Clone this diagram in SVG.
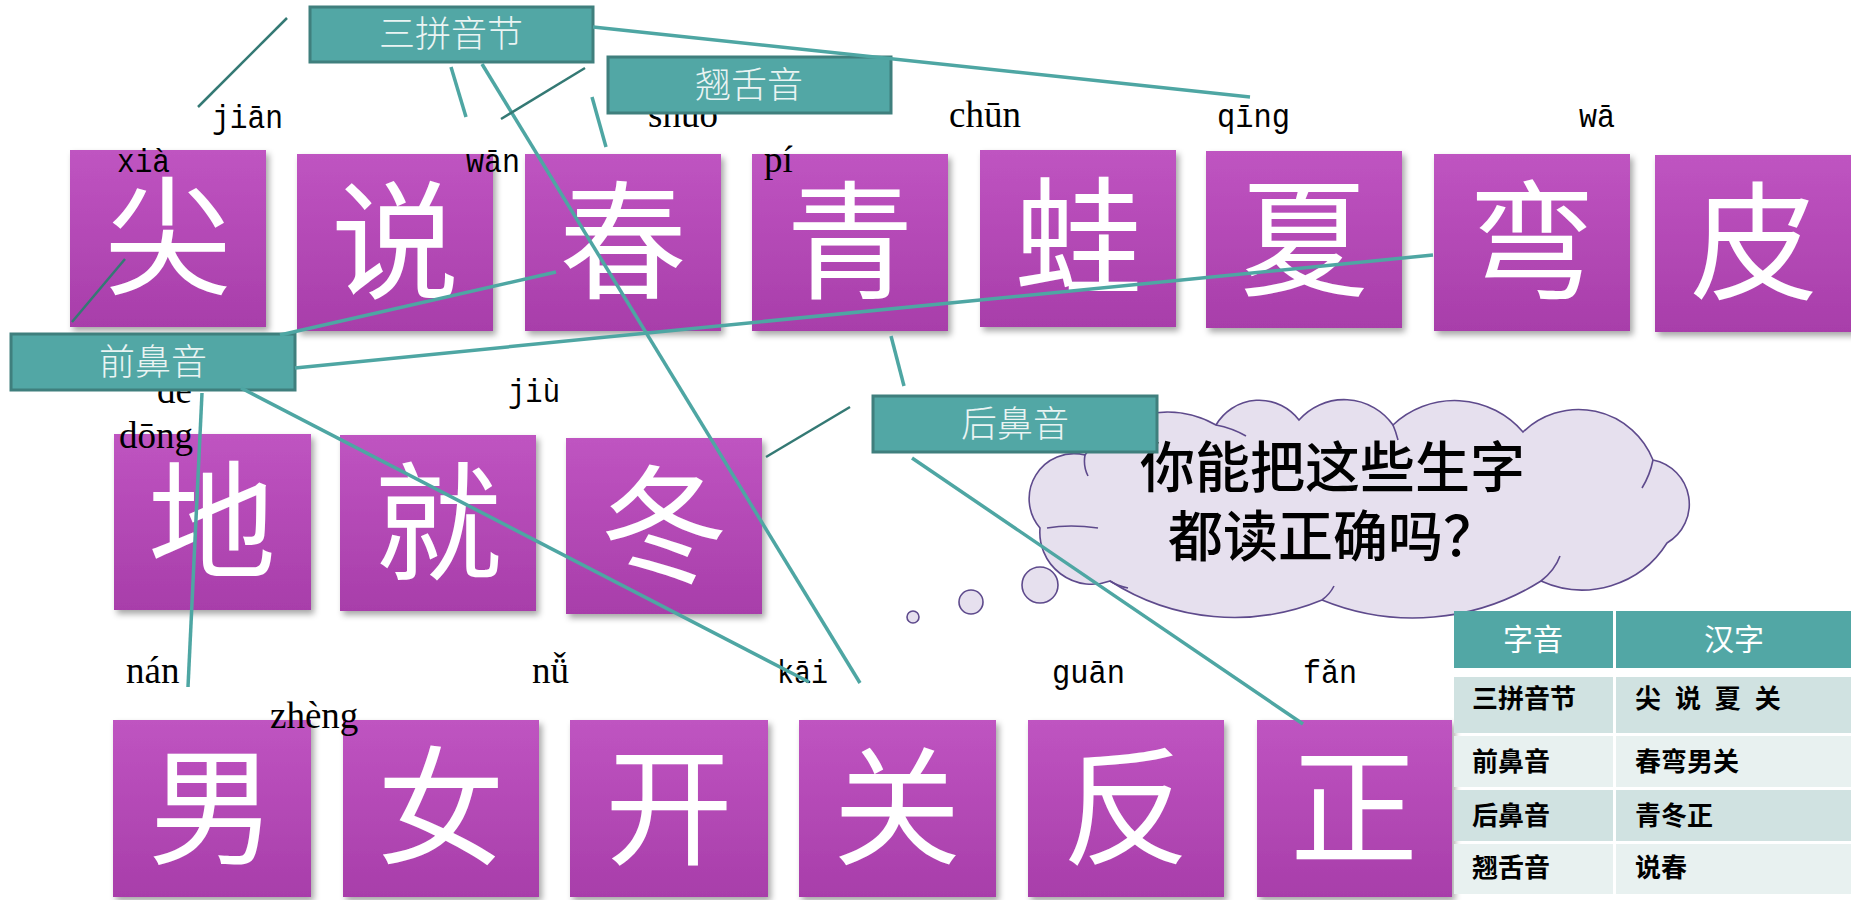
<svg xmlns="http://www.w3.org/2000/svg" width="1851" height="900" viewBox="0 0 1851 900">
<defs>
<linearGradient id="pg" x1="0" y1="0" x2="0" y2="1">
<stop offset="0" stop-color="#BF54C1"/>
<stop offset="1" stop-color="#A83EAA"/>
</linearGradient>
<filter id="sh" x="-10%" y="-10%" width="125%" height="125%">
<feDropShadow dx="3" dy="4" stdDeviation="3" flood-color="#000" flood-opacity="0.35"/>
</filter>
<style>
.cb{fill:url(#pg);filter:url(#sh)}
.ch{font-family:"Noto Sans CJK SC",sans-serif;font-size:128px;fill:#fff;text-anchor:middle}
.pm{font-family:"Liberation Mono",monospace;font-size:33px;fill:#000}
.pt{font-family:"Liberation Serif",serif;font-size:37px;fill:#000}
.lb{fill:#52A7A5;stroke:#3F7F7D;stroke-width:3}
.lt{font-family:"Noto Sans CJK SC",sans-serif;font-size:36px;font-weight:300;fill:#EAF4F3;text-anchor:middle}
.ln{stroke:#4EA6A3;stroke-width:3.5;fill:none}
.ld{stroke:#347974;stroke-width:2.5;fill:none}
.cl{fill:#E6E0EE;stroke:#5E4A8C;stroke-width:1.6}
.ci{fill:none;stroke:#5E4A8C;stroke-width:1.6}
.qt{font-family:"Noto Sans CJK SC",sans-serif;font-size:55px;font-weight:500;fill:#000}
.th{fill:#52A7A5}
.r1{fill:#D0E2E1}
.r2{fill:#E8F1F0}
.tht{font-family:"Noto Sans CJK SC",sans-serif;font-size:30px;fill:#fff;text-anchor:middle}
.tt{font-family:"Noto Sans CJK SC",sans-serif;font-size:26px;font-weight:bold;fill:#000}
</style>
</defs>
<rect width="1851" height="900" fill="#fff"/>

<g id="n-jian"><rect class="cb" x="70" y="150" width="196" height="177"/><text class="ch" x="168" y="285">尖</text></g>
<g id="n-shuo"><rect class="cb" x="297" y="154" width="196" height="177"/><text class="ch" x="395" y="289">说</text></g>
<g id="n-chun"><rect class="cb" x="525" y="154" width="196" height="177"/><text class="ch" x="623" y="289">春</text></g>
<g id="n-qing"><rect class="cb" x="752" y="154" width="196" height="177"/><text class="ch" x="850" y="289">青</text></g>
<g id="n-wa"><rect class="cb" x="980" y="150" width="196" height="177"/><text class="ch" x="1078" y="285">蛙</text></g>
<g id="n-xia"><rect class="cb" x="1206" y="151" width="196" height="177"/><text class="ch" x="1304" y="286">夏</text></g>
<g id="n-wan"><rect class="cb" x="1434" y="154" width="196" height="177"/><text class="ch" x="1532" y="289">弯</text></g>
<g id="n-pi"><rect class="cb" x="1655" y="155" width="200" height="177"/><text class="ch" x="1754" y="290">皮</text></g>

<g id="n-di"><rect class="cb" x="114" y="434" width="197" height="176"/><text class="ch" x="212" y="569">地</text></g>
<g id="n-jiu"><rect class="cb" x="340" y="435" width="196" height="176"/><text class="ch" x="438" y="570">就</text></g>
<g id="n-dong"><rect class="cb" x="566" y="438" width="196" height="176"/><text class="ch" x="664" y="573">冬</text></g>

<g id="n-nan"><rect class="cb" x="113" y="720" width="198" height="177"/><text class="ch" x="212" y="855">男</text></g>
<g id="n-nv"><rect class="cb" x="343" y="720" width="196" height="177"/><text class="ch" x="441" y="855">女</text></g>
<g id="n-kai"><rect class="cb" x="570" y="720" width="198" height="177"/><text class="ch" x="669" y="855">开</text></g>
<g id="n-guan"><rect class="cb" x="799" y="720" width="197" height="177"/><text class="ch" x="897" y="855">关</text></g>
<g id="n-fan"><rect class="cb" x="1028" y="720" width="196" height="177"/><text class="ch" x="1126" y="855">反</text></g>
<g id="n-zheng"><rect class="cb" x="1257" y="720" width="195" height="177"/><text class="ch" x="1354" y="855">正</text></g>

<g id="pinyin">
<text class="pm" x="212" y="128" textLength="71" lengthAdjust="spacingAndGlyphs">jiān</text>
<text class="pm" x="117" y="172" textLength="53" lengthAdjust="spacingAndGlyphs">xià</text>
<text class="pm" x="466" y="172" textLength="54" lengthAdjust="spacingAndGlyphs">wān</text>
<text class="pm" x="1217" y="127" textLength="73" lengthAdjust="spacingAndGlyphs">qīng</text>
<text class="pm" x="1579" y="127" textLength="36" lengthAdjust="spacingAndGlyphs">wā</text>
<text class="pm" x="508" y="402" textLength="52" lengthAdjust="spacingAndGlyphs">jiù</text>
<text class="pm" x="777" y="683" textLength="51" lengthAdjust="spacingAndGlyphs">kāi</text>
<text class="pm" x="1052" y="683" textLength="73" lengthAdjust="spacingAndGlyphs">guān</text>
<text class="pm" x="1303" y="683" textLength="54" lengthAdjust="spacingAndGlyphs">fǎn</text>
<text class="pt" x="648" y="127">shuō</text>
<text class="pt" x="949" y="127">chūn</text>
<text class="pt" x="764" y="172">pí</text>
<text class="pt" x="157" y="403">de</text>
<text class="pt" x="119" y="448">dōng</text>
<text class="pt" x="126" y="683">nán</text>
<text class="pt" x="270" y="728">zhèng</text>
<text class="pt" x="532" y="683">nǚ</text>
</g>

<g id="cloud">
<path class="cl" d="M1085 455 A100 100 0 0 1 1216 425 A50 50 0 0 1 1299 420 A60 60 0 0 1 1393 425 A90 90 0 0 1 1523 432 A80 80 0 0 1 1653 460 A45 45 0 0 1 1667 543 A100 100 0 0 1 1541 581 A240 240 0 0 1 1322 600 A230 230 0 0 1 1110 581 A52 52 0 0 1 1040 528 A45 45 0 0 1 1085 455 Z"/>
<path class="ci" d="M1085 455 Q1083 466 1088 476 M1047 528 Q1070 524 1098 528 M1216 425 Q1232 428 1246 436 M1393 425 Q1396 432 1398 440 M1653 460 Q1650 475 1642 488 M1541 581 Q1555 570 1560 556 M1322 600 Q1330 594 1334 586 M1110 581 Q1118 586 1128 588"/>
<circle class="cl" cx="1040" cy="585" r="18"/>
<circle class="cl" cx="971" cy="602" r="12"/>
<circle class="cl" cx="913" cy="617" r="6"/>
<text class="qt" x="1140" y="487">你能把这些生字</text>
<text class="qt" x="1168" y="556">都读正确吗？</text>
</g>

<g id="lbl-sanpin"><rect class="lb" x="310" y="7" width="283" height="55"/><text class="lt" x="451" y="47">三拼音节</text></g>
<g id="lbl-qiaoshe"><rect class="lb" x="608" y="57" width="283" height="56"/><text class="lt" x="749" y="98">翘舌音</text></g>
<g id="lbl-qianbi"><rect class="lb" x="11" y="334" width="284" height="56"/><text class="lt" x="153" y="375">前鼻音</text></g>
<g id="lbl-houbi"><rect class="lb" x="873" y="396" width="284" height="56"/><text class="lt" x="1015" y="437">后鼻音</text></g>

<g id="connectors">
<line class="ld" x1="198" y1="107" x2="287" y2="18"/>
<line class="ln" x1="593" y1="27" x2="1250" y2="97"/>
<line class="ln" x1="451" y1="67" x2="466" y2="117"/>
<line class="ln" x1="482" y1="64" x2="860" y2="683"/>
<line class="ld" x1="501" y1="119" x2="585" y2="68"/>
<line class="ln" x1="592" y1="97" x2="606" y2="147"/>
<line class="ld" x1="72" y1="322" x2="125" y2="259"/>
<line class="ln" x1="280" y1="335" x2="556" y2="272"/>
<line class="ln" x1="295" y1="368" x2="1433" y2="255"/>
<line class="ln" x1="202" y1="393" x2="188" y2="687"/>
<line class="ln" x1="241" y1="388" x2="809" y2="682"/>
<line class="ln" x1="891" y1="336" x2="904" y2="386"/>
<line class="ld" x1="766" y1="457" x2="850" y2="407"/>
<line class="ln" x1="912" y1="458" x2="1303" y2="724"/>
</g>

<g id="table">
<rect class="th" x="1454" y="611" width="159" height="57"/>
<rect class="th" x="1616" y="611" width="235" height="57"/>
<rect class="r1" x="1454" y="677" width="159" height="56"/>
<rect class="r1" x="1616" y="677" width="235" height="56"/>
<rect class="r2" x="1454" y="736" width="159" height="51"/>
<rect class="r2" x="1616" y="736" width="235" height="51"/>
<rect class="r1" x="1454" y="790" width="159" height="51"/>
<rect class="r1" x="1616" y="790" width="235" height="51"/>
<rect class="r2" x="1454" y="844" width="159" height="50"/>
<rect class="r2" x="1616" y="844" width="235" height="50"/>
<text class="tht" x="1533" y="650">字音</text>
<text class="tht" x="1734" y="650">汉字</text>
<text class="tt" x="1472" y="708">三拼音节</text>
<text class="tt" x="1635" y="708" word-spacing="8">尖 说 夏 关</text>
<text class="tt" x="1472" y="771">前鼻音</text>
<text class="tt" x="1635" y="771">春弯男关</text>
<text class="tt" x="1472" y="825">后鼻音</text>
<text class="tt" x="1635" y="825">青冬正</text>
<text class="tt" x="1472" y="877">翘舌音</text>
<text class="tt" x="1635" y="877">说春</text>
</g>
</svg>
